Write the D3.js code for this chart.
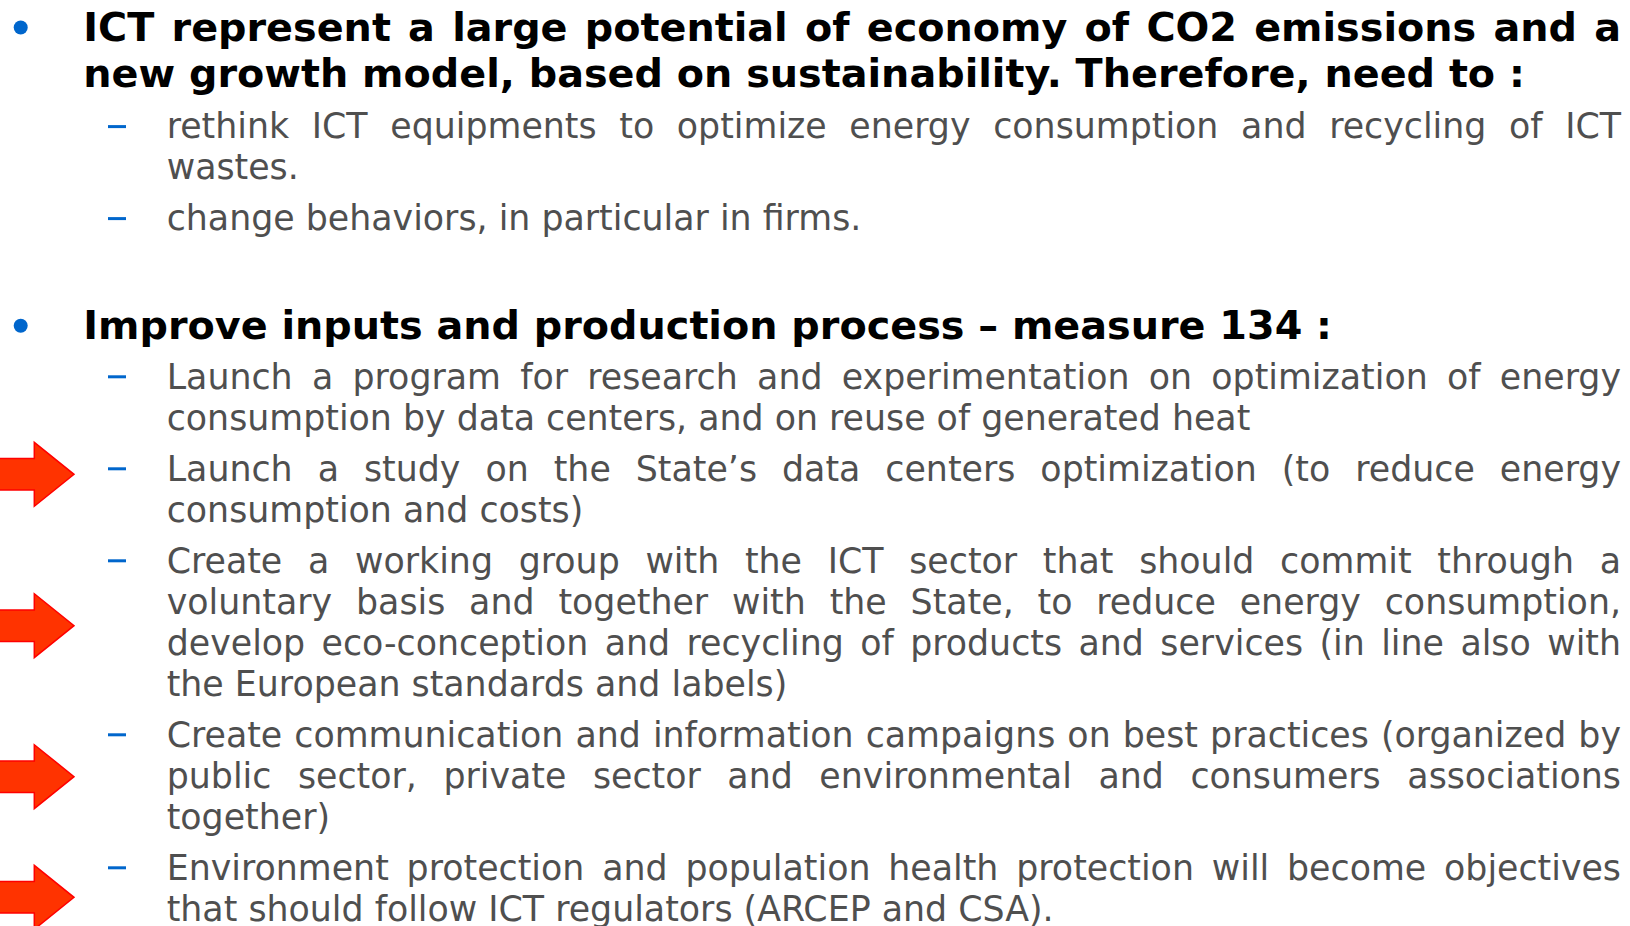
<!DOCTYPE html>
<html>
<head>
<meta charset="utf-8">
<script src="https://cdn.jsdelivr.net/npm/d3@7"></script>
<style>
  html, body { margin: 0; padding: 0; background: #ffffff; overflow: hidden; }
  svg { display: block; }
</style>
</head>
<body>
<script>
// ---------------- content ----------------
const heading1Lines = [
  "ICT represent a large potential of economy of CO2 emissions and a",
  "new growth model, based on sustainability. Therefore, need to :"
];
const heading1Items = [
  ["rethink ICT equipments to optimize energy consumption and recycling of ICT", "wastes."],
  ["change behaviors, in particular in firms."]
];
const heading2Lines = [
  "Improve inputs and production process \u2013 measure 134 :"
];
const heading2Items = [
  ["Launch a program for research and experimentation on optimization of energy",
   "consumption by data centers, and on reuse of generated heat"],
  ["Launch a study on the State\u2019s data centers optimization (to reduce energy",
   "consumption and costs)"],
  ["Create a working group with the ICT sector that should commit through a",
   "voluntary basis and together with the State, to reduce energy consumption,",
   "develop eco-conception and recycling of products and services (in line also with",
   "the European standards and labels)"],
  ["Create communication and information campaigns on best practices (organized by",
   "public sector, private sector and environmental and consumers associations",
   "together)"],
  ["Environment protection and population health protection will become objectives",
   "that should follow ICT regulators (ARCEP and CSA)."]
];
// vertical centres of the red arrows (pixels)
const arrowCenters = [474.3, 625.7, 776.7, 897.3];

// ---------------- layout / style ----------------
const W = 1630, H = 926;
const FONT = "'DejaVu Sans', Verdana, sans-serif";
const BLUE = "#0066cc", GRAY = "#4f4f4f", BLACK = "#000000";
const X_BULLET = 20.7, X_HEAD = 83.3, X_DASH0 = 108, X_DASH1 = 126, X_SUB = 166.7, X_RIGHT = 1621;
const HEAD_LH = 46.3, SUB_LH = 41, SUB_GAP = 51;

const svg = d3.select("body").append("svg").attr("width", W).attr("height", H);
const meas = svg.append("text").attr("visibility", "hidden")
  .attr("font-family", FONT).style("white-space", "pre");
function tw(str, size, weight) {
  meas.attr("font-size", size).attr("font-weight", weight).text(str);
  return meas.node().getComputedTextLength();
}
// font sizes fitted to the reference widths of two unjustified lines
const headSize = 100 * 1442 / tw(heading1Lines[1], 100, "bold");
const subSize = 100 * 1084 / tw(heading2Items[0][1], 100, "normal");

function drawLine(g, str, x0, y, size, weight, color, justify) {
  const t = g.append("text").attr("y", y).attr("font-family", FONT)
    .attr("font-size", size).attr("font-weight", weight).attr("fill", color)
    .style("white-space", "pre");
  if (!justify) { t.attr("x", x0).text(str); return; }
  const words = str.split(" ");
  const ws = words.map(w => tw(w, size, weight));
  const total = d3.sum(ws);
  const gap = (X_RIGHT - x0 - total) / (words.length - 1);
  let x = x0;
  words.forEach((w, i) => {
    t.append("tspan").attr("x", x).text(w);
    x += ws[i] + gap;
  });
}

function drawBlock(lines, items, headBaseline, subStart) {
  const g = svg.append("g");
  g.append("circle").attr("cx", X_BULLET).attr("cy", headBaseline - 13.5).attr("r", 7).attr("fill", BLUE);
  lines.forEach((ln, i) => drawLine(g, ln, X_HEAD, headBaseline + i * HEAD_LH, headSize, "bold", BLACK, i < lines.length - 1));
  let y = subStart;
  items.forEach(item => {
    g.append("rect").attr("x", X_DASH0).attr("y", y - 13.2).attr("width", X_DASH1 - X_DASH0).attr("height", 3).attr("fill", BLUE);
    item.forEach((ln, i) => {
      drawLine(g, ln, X_SUB, y, subSize, "normal", GRAY, i < item.length - 1);
      if (i < item.length - 1) y += SUB_LH;
    });
    y += SUB_GAP;
  });
}

drawBlock(heading1Lines, heading1Items, 41, 138.3);
drawBlock(heading2Lines, heading2Items, 339.3, 388.5);

// red arrows
const arrowShape = [[-6, -15.7], [34.3, -15.7], [34.3, -32], [74, 0], [34.3, 32], [34.3, 15.7], [-6, 15.7]];
svg.append("g").selectAll("polygon").data(arrowCenters).join("polygon")
  .attr("points", cy => arrowShape.map(p => [p[0], cy + p[1]].join(",")).join(" "))
  .attr("fill", "#ff3300").attr("stroke", "#ff0000").attr("stroke-width", 1.5)
  .attr("stroke-linejoin", "miter");
meas.remove();
</script>
</body>
</html>
